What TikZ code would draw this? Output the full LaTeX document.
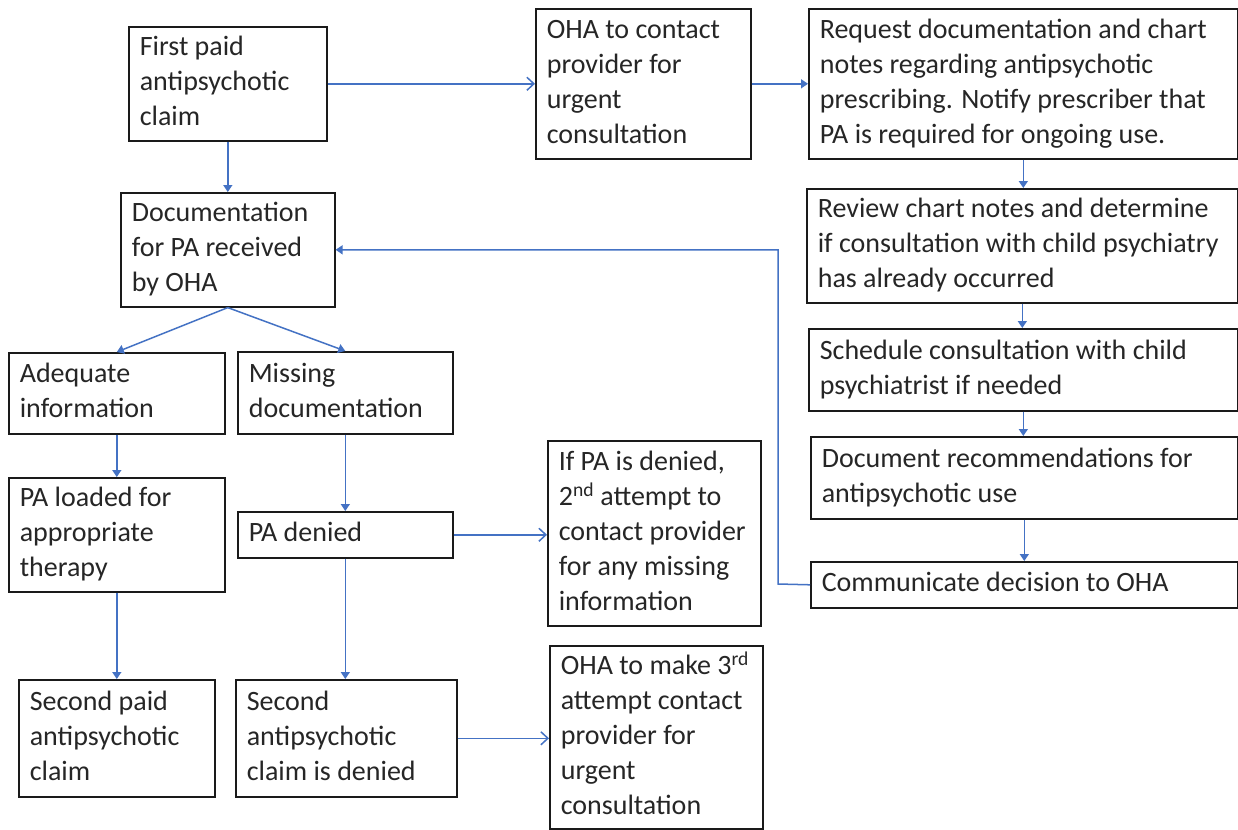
\documentclass[tikz,border=0pt]{standalone}
\usepackage{fontspec}
\setmainfont{Carlito}
\usetikzlibrary{arrows.meta}
\definecolor{conn}{HTML}{4472C4}
\definecolor{boxline}{HTML}{1A1A1A}
\newcommand\bx[6]{\node[box, minimum width={#4pt-#2pt}, minimum height={#5pt-#3pt}] (#1) at (#2,#3) {\makebox[\dimexpr#4pt-#2pt-22pt\relax][l]{\begin{tabular}{@{}l@{}}#6\end{tabular}}};}
\begin{document}
\begin{tikzpicture}[x=1pt,y=-1pt,
  font=\fontsize{28}{35}\selectfont,
  box/.style={draw=boxline, line width=1.6pt, inner sep=0pt, anchor=north west, rectangle, text=black!85},
  conn/.style={draw=conn, line width=1.5pt},
  tri/.style={conn, -{Triangle[width=9pt,length=7pt]}},
  barb/.style={conn, -{Straight Barb[width=13pt,length=7pt]}}]
\useasboundingbox (0,0) rectangle (1238,829);
\fill[white] (0,0) rectangle (1238,829);
% boxes
\bx{first}{128}{26}{326}{140}{First paid\\antipsychotic\\claim}
\bx{oha}{535}{8}{750}{158}{OHA to contact\\provider for\\urgent\\consultation}
\bx{req}{808}{8}{1237}{158}{Request documentation and chart\\notes regarding antipsychotic\\prescribing. Notify prescriber that\\PA is required for ongoing use.}
\bx{rev}{806}{188}{1237}{302}{Review chart notes and determine\\if consultation with child psychiatry\\has already occurred}
\bx{sched}{808}{328}{1237}{410}{Schedule consultation with child\\psychiatrist if needed}
\bx{docrec}{810}{436}{1237}{518}{Document recommendations for\\antipsychotic use}
\bx{comm}{810}{561}{1237}{607}{Communicate decision to OHA}
\bx{doc}{120}{192}{334}{306}{Documentation\\for PA received\\by OHA}
\bx{adeq}{8}{352}{224}{433}{Adequate\\information}
\bx{miss}{237}{351}{452}{433}{Missing\\documentation}
\bx{loaded}{8}{477}{224}{591}{PA loaded for\\appropriate\\therapy}
\bx{denied}{237}{511}{452}{557}{PA denied}
\bx{ifpa}{547}{440}{760}{625}{If PA is denied,\\2\textsuperscript{nd} attempt to\\contact provider\\for any missing\\information}
\bx{second}{18}{679}{214}{796}{Second paid\\antipsychotic\\claim}
\bx{secden}{235}{679}{456}{796}{Second\\antipsychotic\\claim is denied}
\bx{oha3}{549}{645}{762}{828}{OHA to make 3\textsuperscript{rd}\\attempt contact\\provider for\\urgent\\consultation}
% connectors
\draw[barb] (first.east) -- (first.east -| oha.west);
\draw[tri] (oha.east) -- (oha.east -| req.west);
\draw[tri] (req.south) -- (req.south |- rev.north);
\draw[tri] (rev.south) -- (rev.south |- sched.north);
\draw[tri] (sched.south) -- (sched.south |- docrec.north);
\draw[tri] (docrec.south) -- (docrec.south |- comm.north);
\coordinate (loop) at (778,584);
\draw[tri] (comm.west) -- (loop) |- (doc.east);
\draw[tri] (first.south) -- (doc.north);
\draw[tri] (doc.south) -- (adeq.north);
\draw[tri] (doc.south) -- (miss.north);
\draw[tri] (adeq.south) -- (loaded.north);
\draw[tri] (miss.south) -- (miss.south |- denied.north);
\draw[tri] (loaded.south) -- (loaded.south |- second.north);
\draw[tri] (denied.south) -- (denied.south |- secden.north);
\draw[barb] (denied.east) -- (denied.east -| ifpa.west);
\draw[barb] (secden.east) -- (secden.east -| oha3.west);
\end{tikzpicture}
\end{document}
